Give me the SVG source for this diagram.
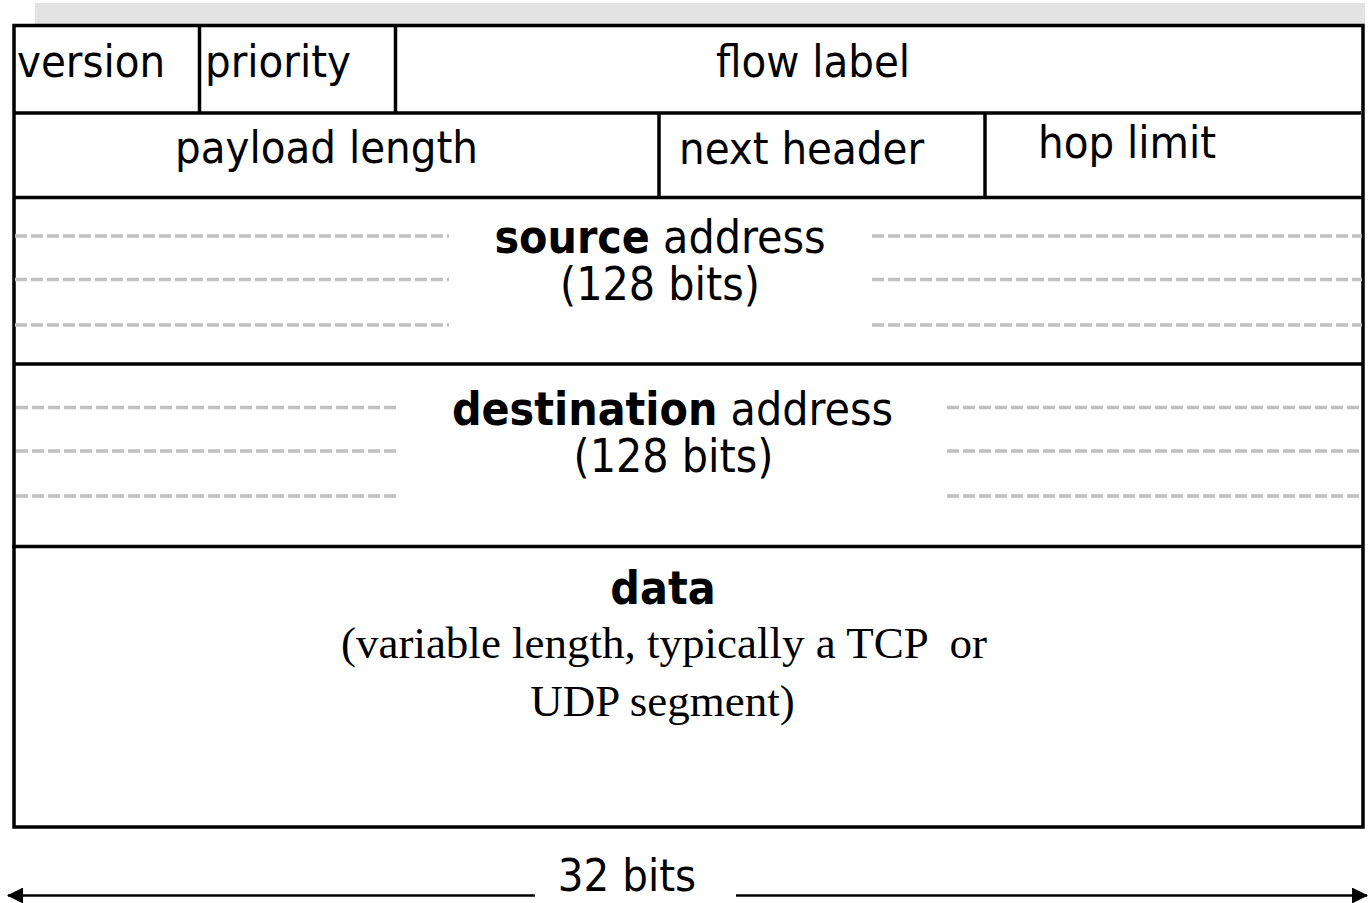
<svg xmlns="http://www.w3.org/2000/svg" width="1368" height="903" viewBox="0 0 1368 903">
<defs>
<style>
.t{font-family:"DejaVu Sans Condensed","DejaVu Sans",sans-serif;font-size:45px;fill:#000}
.a{font-family:"DejaVu Sans Condensed","DejaVu Sans",sans-serif;font-size:46px;fill:#000}
.bd{font-weight:bold}
.sr{font-family:"Liberation Serif","Times New Roman",serif;font-size:45px;fill:#000;white-space:pre}
.ln{stroke:#000;stroke-width:3.5;fill:none}
.ds{stroke:#c0c0c0;stroke-width:3.3;stroke-dasharray:12 4;fill:none}
.ar{stroke:#000;stroke-width:2.5;fill:none}
</style>
<marker id="ah" viewBox="0 0 16 16" refX="15" refY="8" markerWidth="16" markerHeight="16" markerUnits="userSpaceOnUse" orient="auto-start-reverse">
<path d="M0,0 L16,8 L0,16 Z" fill="#000"/>
</marker>
</defs>
<rect x="0" y="0" width="1368" height="903" fill="#fff"/>
<rect x="35" y="3" width="1330" height="21" fill="#e3e3e3"/>
<g id="frame">
<rect class="ln" x="14" y="25.5" width="1349" height="801.5" fill="#fff"/>
<line class="ln" x1="14" y1="113" x2="1361" y2="113"/>
<line class="ln" x1="14" y1="197.5" x2="1363" y2="197.5"/>
<line class="ln" x1="14" y1="364" x2="1363" y2="364"/>
<line class="ln" x1="12" y1="546.5" x2="1363" y2="546.5"/>
</g>
<g id="version">
<text class="t" x="17" y="77">version</text>
<line class="ln" x1="199.5" y1="25" x2="199.5" y2="112"/>
</g>
<g id="priority">
<text class="t" x="205" y="77">priority</text>
<line class="ln" x1="395.5" y1="25" x2="395.5" y2="112"/>
</g>
<g id="flow-label">
<text class="t" x="813" y="77" text-anchor="middle">flow label</text>
</g>
<g id="payload-length">
<text class="t" x="326.5" y="163" text-anchor="middle">payload length</text>
<line class="ln" x1="659" y1="113" x2="659" y2="197"/>
</g>
<g id="next-header">
<text class="t" x="679" y="164">next header</text>
<line class="ln" x1="985" y1="113" x2="985" y2="197"/>
</g>
<g id="hop-limit">
<text class="t" x="1127" y="158" text-anchor="middle">hop limit</text>
</g>
<g id="source-address">
<line class="ds" x1="15" y1="236" x2="449" y2="236"/>
<line class="ds" x1="15" y1="279.5" x2="449" y2="279.5"/>
<line class="ds" x1="15" y1="325" x2="449" y2="325"/>
<line class="ds" x1="872" y1="236" x2="1362" y2="236"/>
<line class="ds" x1="872" y1="279.5" x2="1362" y2="279.5"/>
<line class="ds" x1="872" y1="325" x2="1362" y2="325"/>
<text class="a" x="660" y="253" text-anchor="middle"><tspan class="bd">source</tspan> address</text>
<text class="a" x="660" y="300" text-anchor="middle">(128 bits)</text>
</g>
<g id="destination-address">
<line class="ds" x1="16" y1="407.5" x2="397" y2="407.5"/>
<line class="ds" x1="16" y1="451" x2="397" y2="451"/>
<line class="ds" x1="16" y1="496" x2="397" y2="496"/>
<line class="ds" x1="947" y1="407.5" x2="1362" y2="407.5"/>
<line class="ds" x1="947" y1="451" x2="1362" y2="451"/>
<line class="ds" x1="947" y1="496" x2="1362" y2="496"/>
<text class="a" x="672.5" y="425" text-anchor="middle"><tspan class="bd">destination</tspan> address</text>
<text class="a" x="673.5" y="472" text-anchor="middle">(128 bits)</text>
</g>
<g id="data">
<text class="a bd" x="663" y="604" text-anchor="middle">data</text>
<text class="sr" x="664" y="658" text-anchor="middle">(variable length, typically a TCP  or</text>
<text class="sr" x="662.5" y="716" text-anchor="middle">UDP segment)</text>
</g>
<g id="width-label">
<text class="t" x="627" y="891" text-anchor="middle">32 bits</text>
</g>
<g id="connectors">
<line class="ar" x1="535" y1="895.5" x2="8" y2="895.5" marker-end="url(#ah)"/>
<line class="ar" x1="736" y1="895.5" x2="1367" y2="895.5" marker-end="url(#ah)"/>
</g>
</svg>
